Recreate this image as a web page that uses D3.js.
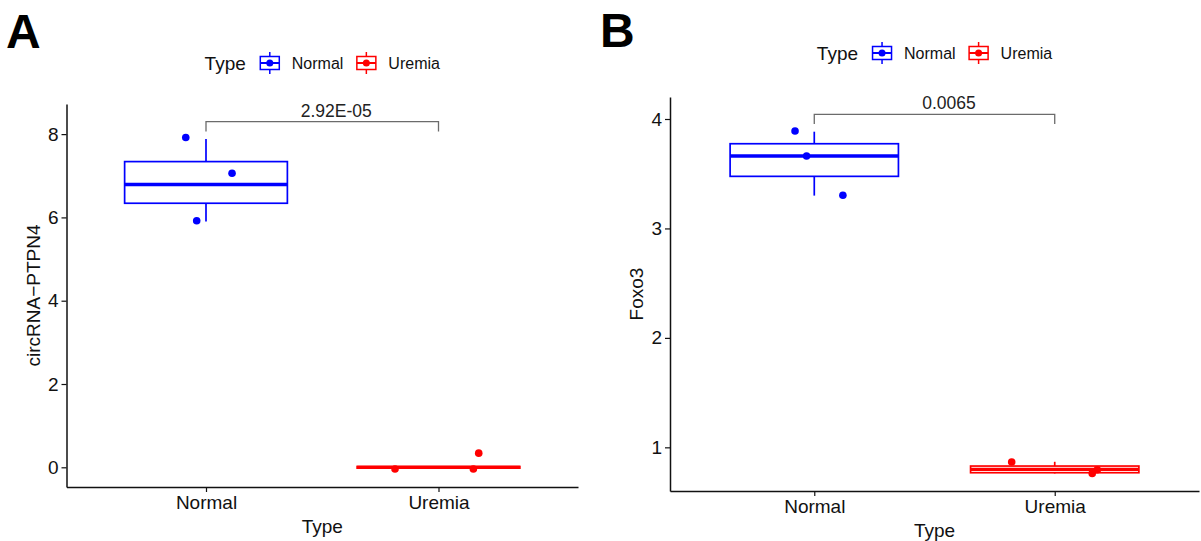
<!DOCTYPE html>
<html>
<head>
<meta charset="utf-8">
<script src="https://cdn.jsdelivr.net/npm/d3@7"></script>
<style>
  body { margin: 0; background: #fff; }
  text { font-family: "Liberation Sans", Arial, sans-serif; }
</style>
</head>
<body>
<script>
// ---- data ----
var categories = ['Normal', 'Uremia'];
var colors = ['#0000ff', '#ff0000'];

// panel A: circRNA-PTPN4
var ptpn4Ticks = [0, 2, 4, 6, 8];
// [lower whisker, q1, median, q3, upper whisker] per category
var ptpn4Box = [[5.90, 6.34, 6.79, 7.34, 7.88], [-0.03, -0.02, 0.0, 0.02, 0.03]];
var ptpn4Points = [[7.92, 7.06, 5.92], [-0.04, -0.04, 0.34]];
var ptpn4Jitter = [[-0.087, 0.112, -0.040], [-0.187, 0.150, 0.173]];
var ptpn4Bracket = [8.06, 8.30]; // [leg end, top]
var ptpn4P = '2.92E-05';

// panel B: Foxo3
var foxo3Ticks = [1, 2, 3, 4];
var foxo3Box = [[3.300, 3.476, 3.662, 3.774, 3.884], [0.761, 0.768, 0.799, 0.829, 0.868]];
var foxo3Points = [[3.890, 3.662, 3.303], [0.866, 0.762, 0.795]];
var foxo3Jitter = [[-0.080, -0.032, 0.119], [-0.179, 0.156, 0.177]];
var foxo3Bracket = [3.954, 4.043];
var foxo3P = '0.0065';

var svg = d3.select('body').append('svg')
  .attr('width', 1201)
  .attr('height', 541);

function drawPanel(opt) {
  var g = svg.append('g');

  var x = d3.scalePoint().domain(categories)
    .range([opt.left, opt.right]).padding(0.6);
  var y = d3.scaleLinear().domain(opt.yDomain)
    .range([opt.bottom, opt.top]);
  var step = x.step();

  // panel letter
  g.append('text')
    .attr('x', opt.letterX).attr('y', opt.letterY)
    .attr('font-size', 48).attr('font-weight', 'bold')
    .text(opt.letter);

  // boxes
  categories.forEach(function(c, i) {
    var s = opt.box[i];
    var cx = x(c), w = step * 0.7;
    var bg = g.append('g').attr('stroke', colors[i]).attr('fill', 'none');
    bg.append('line')
      .attr('x1', cx).attr('x2', cx)
      .attr('y1', y(s[3])).attr('y2', y(s[4]))
      .attr('stroke-width', 1.7);
    bg.append('line')
      .attr('x1', cx).attr('x2', cx)
      .attr('y1', y(s[1])).attr('y2', y(s[0]))
      .attr('stroke-width', 1.7);
    bg.append('rect')
      .attr('x', cx - w / 2).attr('width', w)
      .attr('y', y(s[3])).attr('height', Math.max(0, y(s[1]) - y(s[3])))
      .attr('fill', '#fff')
      .attr('stroke-width', 1.7);
    bg.append('line')
      .attr('x1', cx - w / 2).attr('x2', cx + w / 2)
      .attr('y1', y(s[2])).attr('y2', y(s[2]))
      .attr('stroke-width', 3.3);
  });

  // jittered points
  categories.forEach(function(c, i) {
    g.selectAll(null)
      .data(opt.points[i])
      .enter().append('circle')
      .attr('cx', function(d, j) { return x(c) + opt.jitter[i][j] * step; })
      .attr('cy', function(d) { return y(d); })
      .attr('r', 3.8)
      .attr('fill', colors[i]);
  });

  // significance bracket
  var b = opt.bracket;
  g.append('path')
    .attr('d', d3.line()([
      [x(categories[0]), y(b[0])],
      [x(categories[0]), y(b[1])],
      [x(categories[1]), y(b[1])],
      [x(categories[1]), y(b[0])]
    ]))
    .attr('fill', 'none')
    .attr('stroke', '#6b6b6b')
    .attr('stroke-width', 1.3);
  g.append('text')
    .attr('x', x(categories[0]) + 0.56 * step)
    .attr('y', y(b[1]) - 5)
    .attr('text-anchor', 'middle')
    .attr('font-size', 17.5)
    .attr('fill', '#222')
    .text(opt.pLabel);

  // axes
  var yAxis = g.append('g')
    .attr('transform', 'translate(' + opt.left + ',0)')
    .call(d3.axisLeft(y).tickValues(opt.ticks).tickFormat(d3.format('d'))
      .tickSize(5).tickSizeOuter(0).tickPadding(3));
  var xAxis = g.append('g')
    .attr('transform', 'translate(0,' + opt.bottom + ')')
    .call(d3.axisBottom(x).tickSize(5).tickSizeOuter(0).tickPadding(4));
  [xAxis, yAxis].forEach(function(ax) {
    ax.select('.domain').attr('stroke', '#111').attr('stroke-width', 1.5);
    ax.selectAll('.tick line').attr('stroke', '#111').attr('stroke-width', 1.2);
    ax.selectAll('.tick text')
      .attr('font-family', '"Liberation Sans", Arial, sans-serif')
      .attr('font-size', 19).attr('fill', '#111');
  });

  // axis titles
  g.append('text')
    .attr('x', (opt.left + opt.right) / 2)
    .attr('y', opt.bottom + 46)
    .attr('text-anchor', 'middle')
    .attr('font-size', 19).attr('fill', '#111')
    .text('Type');
  g.append('text')
    .attr('transform', 'translate(' + (opt.left - 27) + ',' + (opt.top + opt.bottom) / 2 + ') rotate(-90)')
    .attr('text-anchor', 'middle')
    .attr('font-size', 19).attr('fill', '#111')
    .text(opt.yTitle);

  // legend on top, centred over the panel
  var lg = g.append('g');
  var cursor = 0;
  var title = lg.append('text').attr('x', 0).attr('y', 6.5)
    .attr('font-size', 19).attr('fill', '#111').text('Type');
  cursor += title.node().getComputedTextLength() + 14;
  categories.forEach(function(c, i) {
    var key = lg.append('g').attr('transform', 'translate(' + (cursor + 10) + ',0)')
      .attr('stroke', colors[i]).attr('fill', 'none').attr('stroke-width', 1.5);
    key.append('line').attr('x1', 0).attr('x2', 0).attr('y1', -11).attr('y2', 11);
    key.append('rect').attr('x', -9.5).attr('y', -6.5).attr('width', 19).attr('height', 13).attr('fill', '#fff');
    key.append('line').attr('x1', -9.5).attr('x2', 9.5).attr('y1', 0).attr('y2', 0).attr('stroke-width', 2);
    key.append('circle').attr('r', 3.5).attr('fill', colors[i]).attr('stroke', 'none');
    cursor += 20 + 12;
    var t = lg.append('text').attr('x', cursor).attr('y', 5.5)
      .attr('font-size', 16).attr('fill', '#111').text(c);
    cursor += t.node().getComputedTextLength() + 13;
  });
  cursor -= 13;
  lg.attr('transform', 'translate(' + ((opt.left + opt.right) / 2 - cursor / 2) + ',' + opt.legendY + ')');
}

drawPanel({
  letter: 'A', letterX: 6, letterY: 48,
  left: 66.5, right: 578, top: 104, bottom: 487,
  yDomain: [-0.473, 8.723], ticks: ptpn4Ticks,
  box: ptpn4Box, points: ptpn4Points, jitter: ptpn4Jitter,
  bracket: ptpn4Bracket, pLabel: ptpn4P,
  yTitle: 'circRNA\u2212PTPN4', legendY: 63
});

drawPanel({
  letter: 'B', letterX: 600, letterY: 47,
  left: 670, right: 1199, top: 97, bottom: 491,
  yDomain: [0.601, 4.201], ticks: foxo3Ticks,
  box: foxo3Box, points: foxo3Points, jitter: foxo3Jitter,
  bracket: foxo3Bracket, pLabel: foxo3P,
  yTitle: 'Foxo3', legendY: 53
});
</script>
</body>
</html>
